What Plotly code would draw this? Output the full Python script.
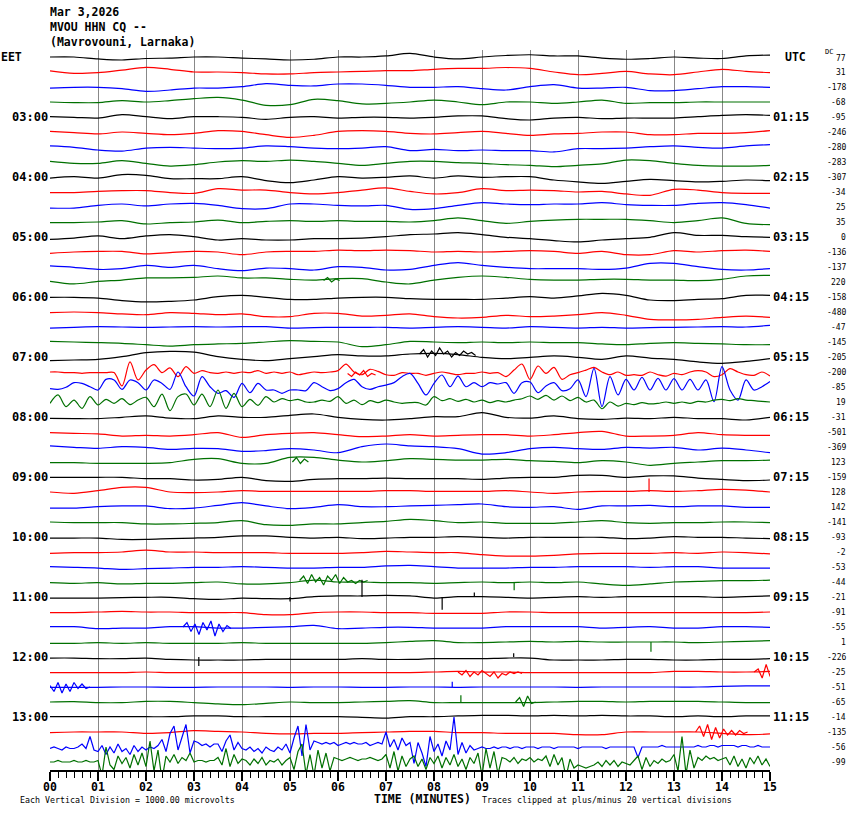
import plotly.graph_objects as go

# Helicorder page: MVOU HHN, 15-minute lines, values in 0.1 vertical division
# (1 division = 1000 microvolts, so 1 unit = 100 microvolts)

DATE_LABEL = "Mar 3,2026"
STATION_LABEL = "MVOU HHN CQ --"
SITE_LABEL = "(Mavrovouni, Larnaka)"

MINUTE_TICKS = ["00", "01", "02", "03", "04", "05", "06", "07",
                "08", "09", "10", "11", "12", "13", "14", "15"]
EET_HOURS = ["03:00", "04:00", "05:00", "06:00", "07:00", "08:00",
             "09:00", "10:00", "11:00", "12:00", "13:00"]
UTC_HOURS = ["01:15", "02:15", "03:15", "04:15", "05:15", "06:15",
             "07:15", "08:15", "09:15", "10:15", "11:15"]
DC_OFFSETS = [77, 31, -178, -68, -95, -246, -280, -283, -307, -34, 25, 35,
              0, -136, -137, 220, -158, -480, -47, -145, -205, -200, -85, 19,
              -31, -501, -369, 123, -159, 128, 142, -141, -93, -2, -53, -44,
              -21, -91, -55, 1, -226, -25, -51, -65, -14, -135, -56, -99]

# one list per 15-minute line (EET start time), samples every 30 s unless denser
tr_0200 = [0, 0, -1.3, -2, -1, -0.7, 0, 0, -0.7, -1.3, -2, -1.5, 0, 0, 0.7, 2.4,
           0, -1.3, 0, 1, 1.5, 0.7, 0.7, -0.7, -1.5, -1, 0, -0.7, -1, 0.7, 1.3]
tr_0215 = [0.7, -0.9, -0.4, 1.3, 3.1, 1.8, 0, 0, -0.4, -1.3, -1.3, -0.4, 0, 0.4, 0.9, 0.9,
           1.8, 2.4, 2.4, 3, 2.4, 0, -1.8, -0.9, 0.4, -1.3, -1.8, 0, 1.8, 0.4, -0.4]
tr_0230 = [-0.7, -0.2, -0.2, -1.1, -2.9, -2, -0.7, -0.7, 0.2, 2.2, 1.1, 0.7, 2, 2, 1.1, -0.2,
           -0.2, 0.2, -1.1, -2, 0.2, 1.6, -0.7, -0.7, -0.2, -2.4, -2.4, -1.1, 0.2, 0.2, -0.2]
tr_0245 = [0, -0.4, -0.4, 0.9, 0, 0.9, 2.2, 3.1, 1.3, -2.2, -1.8, 1.8, 0.9, -1.3, -0.9, 0,
           1.3, 0, -1.8, 0, 0, -0.9, 0, 1.3, -0.9, -0.4, -0.4, 0, 0, 0, 0]
tr_0300 = [0.2, -0.2, -0.7, 1.6, 0.2, -1.1, 0.2, 0.2, -0.2, -1.6, -0.2, 0.2, -0.7, -0.2, -0.2, -0.7,
           -0.2, 0.7, 0.7, -1.1, -2, -0.7, -0.2, -1.1, -0.7, -0.7, -0.7, 0.2, 1.1, 1.6, 1.1]
tr_0315 = [0.4, -0.4, -1.3, 0, -0.9, -1.8, -0.9, 0.9, 0.4, -1.8, -3.6, -2.2, 0.4, 0.9, 0.4, -0.9,
           -1.3, -0.4, 0.4, -0.9, -2.2, -1.3, -0.9, 0, 0, -1.8, -1.8, -0.9, -0.9, -0.4, 0.9]
tr_0330 = [0.7, -0.2, -2, -2.7, -0.7, -0.2, -0.7, -1.1, -0.7, 0.7, 0.2, -0.7, -1.1, -0.7, 0.2, -2.4,
           -1.6, -2.4, -2, -2.4, -2.4, -3.3, -1.1, -1.1, -0.7, 0.2, 0.7, -0.2, -0.7, 0.7, 1.6]
tr_0345 = [0.4, -0.9, -0.9, 0.9, -0.9, -2.7, -1.8, 0, 0.9, 0.4, 1.3, 0.4, -0.9, -2.2, -0.9, 0.4,
           0.4, -0.4, -0.9, -1.8, -2.2, -3.1, -2.2, -1.3, 1.3, 0.9, -0.9, -2.2, -2.7, -2.7, -2.2]
tr_0400 = [-0.7, 0.2, -0.7, 1.6, 1.1, -1.1, -1.1, -1.1, 0.2, -2.4, -3.8, -2, 0.2, -0.7, -0.2, 0.7,
           -0.7, 0.7, -0.2, 0.2, 0.2, -2, -3.3, -4.2, -2.9, -1.6, -2.4, -3.3, -2.9, -2, -2.4]
tr_0415 = [-0.4, -0.4, 0.4, 0.9, 0.9, -0.4, -0.9, 2.2, 1.3, 1.3, -0.4, -1.3, -0.4, 1.3, 2.7, 0.4,
           -1.3, -0.4, 2.2, 0.9, 1.3, 0.9, 0, 0.4, -1.3, -2.2, 1.8, 1.3, -0.4, -0.9, -0.9]
tr_0430 = [-0.7, -0.7, 1.1, 2, 0.7, 2, 2.4, 1.1, -1.1, -1.1, 2, 2, 1.1, 0.7, 1.1, -1.6,
           -1.1, 1.1, 2.9, 2, 1.6, 2, 2, 2.9, 1.6, 1.1, 1.1, 2.4, 2.9, 1.6, -0.7]
tr_0445 = [-0.4, -0.4, 0, 0.9, -1.3, -0.4, 0, 1.3, -0.4, 0.4, 0.9, 0.4, 0.9, 0.4, 0.4, 0,
           0.9, 2.7, 0.9, -0.9, 0.4, 1.3, 1.8, 1.8, 1.8, 0.9, -0.4, 0.9, 2.7, -0.9, -1.8]
tr_0500 = [-1.6, -0.7, 0.7, -1.1, 0.7, 1.6, 0.2, -2, -1.1, -2, -2, -1.1, -1.1, -0.7, 0.2, 1.6,
           2, 2.9, 1.6, -0.2, -1.1, -2.4, -3.3, -2, -1.1, -0.2, 2.9, 1.1, 1.1, 0.2, -0.2]
tr_0515 = [-0.9, 0, 0.4, 0.4, -1.3, -0.4, 0.4, 0, -1.8, 0, 0.4, 0.4, 1.3, 0.9, 1.3, 0.9,
           0, 0.4, 0, 0.4, 0.9, 0.4, -0.9, 0.4, -1.8, -1.8, 0.9, 0, 0.9, 1.3, 0.4]
tr_0530 = [0.7, -0.2, -1.6, -1.1, 1.1, -0.2, 1.1, -1.1, -2.4, -0.7, -1.1, -2, 0.2, -0.2, -2, -1.6,
           1.1, 2.9, 1.1, -0.2, -1.1, -1.1, -1.1, -1.6, -0.7, 2.4, 2.4, 0.2, -1.6, -2, -1.1]
tr_0545 = [0.4, -1.3, 0.4, 1.3, 2.7, 2.7, 3.1, 4, 2.7, 2.7, 1.8, 1.3, 2.2, 2.2, 0, -1.3,
           1.3, 3.1, 4, 3.1, 1.8, 1.3, 1.3, 1.8, 1.8, 1.3, 1.3, 0.9, 1.8, 4, 4.4]
tr_0600 = [-0.2, -0.2, -0.7, -2.4, -3.3, -2.9, -2, 0.2, 1.1, -0.2, -1.6, -1.6, -0.7, -0.2, -0.2, -1.1,
           -1.6, -1.6, -1.6, -0.7, 0.2, -0.7, 0.7, 2.4, 1.1, -2, -2.4, -1.6, -1.1, 1.1, 1.1]
tr_0615 = [-0.4, 0, -0.4, -1.3, -1.8, -0.4, -0.9, -1.8, -1.3, -3.1, -3.1, -0.9, -0.9, -2.7, -2.2, -1.3,
           -3.1, -4, -3.6, -2.2, -3.1, -2.7, -1.8, -0.4, -2.2, -4.9, -5.3, -4.9, -3.6, -2.7, -3.6]
tr_0630 = [-0.7, -0.2, 0.2, 0, -0.2, 0, 0.2, 0, 0.2, 0.2, -0.7, -0.4, -0.2, -0.2, -0.2, -0.7,
           -0.2, 0.2, -0.2, -0.7, 0.2, -0.2, -0.7, -0.2, -0.7, -0.4, -0.2, 0, 0.2, 0, 1.1]
tr_0645 = [0.4, 0, -0.4, -0.9, -1.8, -2.7, -1.8, -1.3, -0.9, 0, 0.9, 0.4, 0, -3.1, -1.8, 0.4,
           0, -0.4, 0, -0.4, 0, -0.4, -0.4, -1.3, -1.8, -0.9, -0.4, -0.9, -1.3, -1.8, -1.8]
tr_0700 = [-2.4, -2, -1.6, 0.2, 2.9, 3.8, 3.3, 0.2, -1.6, -2.4, -1.1, 0.2, 1.6, 0.7, 0.7, 2,
           2.4, 1.6, -0.2, -1.1, -0.2, 0.7, -0.2, -1.6, 0.7, -0.7, -1.6, -3.3, -4.2, -2.9, -1.1]
# 07:15 - 07:45 every 10 s
tr_0715 = [0, 0, -0.4, -0.4, -0.9, -0.4, -0.4, -0.4, -0.4,
           -9.3, 6.7, -5.3, 1.3, 4.9, -0.4, 2.7, -3.1, 3.6, -0.9,
           0.9, -0.4, -0.9, 0, -0.9, 0, -0.4, 0.9, -0.9, 0,
           -0.9, 0, -1.8, -0.9, 0, -0.4, 0, 0.9, 5.3, 0,
           -1.8, 1.8, 0.4, -1.8, -2.2, -0.4, -0.9,
           -0.9, -2.2, -0.9, 0, -0.9, -1.8, -0.9, -0.9, 0, -0.9,
           -0.4, -3.1, 1.3, 5.3, -4.9, 4, -0.9, 3.1, -4.9, -1.8,
           -0.4, 1.3, 3.1, 0, -1.8, 0, -2.2, -1.8, -2.2, 0,
           -1.8, -2.7, -0.9, -1.8, 0, 0.9, 0, -3.1, -1.8, 2.2,
           0, -1.8, -2.2, 0, -2.7]
tr_0730 = [-1.1, -1.6, -0.2, 2.9, 2.4, 0.2, -2, 5.1, 4.7, -1.6,
           4.7, 2.9, -2, 4.7, 2.4, -1.6, 10, 0.2, -6, 6.9,
           0.2, -4.2, -2.4, -6.9, 2.4, -3.8, 2.4, -2, -2, -4.2,
           -2, -2, -2.4, 2.9, 0.2, -2.4, -1.1, 2.9, 5.1, 0.2,
           -1.6, 0.2, 1.3, 2.9, 6.9, 9.1,
           2.4, -5.3, 2.4, 8, 0.2, 7.3, 0.2, 2.9, 0.2, 2.9,
           2, 2.9, -4.2, 2.9, 3.3, -3.8, 0.7, 2.9, -2.4, -1.1,
           4.7, -6.4, 12.4, -13.1, 6.9, -5.3, 5.1, -2, 6.4, -2,
           5.8, -2, 5.6, -2, 5.1, -2, 4.7, -9.8, 13.6, -2,
           -8.7, 4.7, -2, 0.2, 3.6]
tr_0745 = [-0.9, 4.7, -3.1, 1.3, -4.2, 3.6, -2, 1.8, -0.9, 2.2,
           -1.8, 1.3, 3.1, -3.1, 5.3, -5.8, 3.6, 5.3, -2, 5.3,
           -3.1, 8, -4.2, 5.8, -3.1, 1.8, -2.2, 3.6, 0, 2.2,
           0.9, 1.8, 0, 0, 1.3, 0.4, 3.6, -0.9, 1.3, -1.8,
           0.9, -0.4, 1.3, 0, -0.9, -0.4,
           -0.4, -2, 3.6, 0.9, 2.2, 0.4, 1.8, 0, 1.3, -0.4,
           0.9, 0, 1.3, 2.2, 4, 1.8, 4.4, 1.3, 4, 0.9,
           3.1, 0, 1.3, -4.5, 0, -2.7, -0.9, -1.8, -0.4, -1.3,
           -0.9, 0, -0.9, 0, -0.9, 0.4, 0, 1.3, 1.8, 0.9,
           2.2, 1.3, 0.9, 0.4, 0]
tr_0800 = [-0.9, -1.1, -1.1, -0.2, 0.7, -0.7, -1.1, 0.7, -0.2, -0.2, 1.1, 2, -0.2, -1.6, -2, -1.1,
           0.2, 0.2, 2.9, -0.2, -0.7, 0.7, -1.1, -1.6, -0.7, -1.1, -0.2, -1.1, -1.1, -2, -0.2]
tr_0815 = [-0.4, -0.9, -1.3, -2.7, -2.2, -2.7, -1.8, -0.4, -3.6, -1.8, -0.9, -0.4, -1.8, -3.1, -2.7, -1.8,
           -2.7, -2.2, -1.8, -1.8, -2.7, -1.8, -0.4, 0.4, -2.7, -2.7, -2.2, -0.4, -1.8, -2.2, -2.2]
tr_0830 = [0.7, -0.2, -0.9, 0.2, -0.2, -1.6, -0.9, -1.1, -2.9, -2.4, -1.1, -2, -3.8, 0.2, 2, 0.7,
           0.2, -1.1, -4.7, -3.8, -1.1, -0.2, -1.1, -1.6, -0.2, -0.7, -0.2, -2, -0.7, -2, -3.8]
tr_0845 = [-0.4, -0.4, -0.9, -0.9, -0.9, -0.4, 1.8, 2.2, -0.9, -0.9, 3.1, 3.1, 1.3, 0, 0.9, 2.2,
           1.8, 1.3, 1.3, 1.8, 0.9, 0.4, -0.4, 0.9, 0, -2.2, -0.9, 0, 0.9, 0.9, 1.3]
tr_0900 = [-0.2, -0.2, -0.2, -0.2, -1.1, -1.1, -2, -1.6, -0.2, -2.4, -2.9, -1.6, -1.1, -1.1, -0.7, -1.1,
           -1.1, -1.1, -1.6, -0.7, -0.2, -0.2, 1.1, 1.1, -0.2, 0.7, 0.7, -0.7, -1.6, -2.4, -2]
tr_0915 = [0, -0.9, 0.9, 3.1, 3.1, 0, -0.4, 0, 0.9, 0.4, 0.4, 0.4, 0.4, 0.4, 0.9, 0.9,
           0.4, 0.4, 0.4, 0.9, 0, -0.9, 0, 0.4, 0.4, 0.9, 0.4, 0.9, 1.8, 1.3, 0]
tr_0930 = [-0.7, -0.7, 0.2, 0.7, 0.7, -1.1, -0.7, 1.1, 2.9, 0.7, -1.1, -0.2, 1.6, 0.2, 0.2, 0.7,
           1.1, 1.6, 2, 0.2, -0.2, 0.2, -1.6, 0.7, 0.7, 1.1, 0.2, 0.7, 0.7, -0.2, -0.2]
tr_0945 = [0, -0.4, -0.4, -0.4, -1.3, -1.3, -0.9, -0.4, 0.9, -1.8, -2.2, -1.3, -1.3, -0.4, 0.4, 1.8,
           0.9, -0.4, 0, -0.9, -0.9, -0.9, 0, 0.9, -0.4, -0.9, -0.4, -0.4, 0, 0, -0.4]
tr_1000 = [-0.7, -0.7, -0.7, -1.6, -1.6, -1.1, -0.7, -0.2, 0.7, 0.7, -0.2, -0.7, -0.2, -1.1, -0.7, -0.2,
           -0.2, 0.2, -0.2, -0.7, -0.2, -0.2, -0.2, -0.2, -1.1, -0.7, 0.2, -0.2, -0.2, -0.7, -1.1]
tr_1015 = [-0.9, -0.4, -0.4, 0, 1.3, 0, 0, -0.4, -0.4, -0.4, -0.9, -0.9, -0.9, -0.4, 0.4, 0,
           -0.4, -0.4, -1.8, -2.7, -2.7, -2.2, -1.3, -0.9, -0.9, -0.9, -0.4, -0.9, 0, -0.4, -1.3]
tr_1030 = [0.2, -0.2, -0.7, -1.6, -1.1, -0.7, -0.2, -0.2, 0.2, -0.2, -0.7, -0.7, -0.2, -0.2, 0.7, 1.1,
           0.2, -0.7, -0.7, -0.7, -0.2, -0.2, 0.2, 0.2, 0.2, -0.2, 0.2, 0.2, -0.7, -0.7, -0.7]
tr_1045 = [-0.4, -0.9, -0.4, -1.3, -0.9, -0.9, -0.4, 0, -1.3, -1.3, -0.4, 1.3, 0, 0, -0.4, -0.4,
           -0.9, -0.4, 0, -0.4, 0, -0.4, 0, -1.3, -2.2, -1.3, 0, 0.4, 0.9, 0.9, 1.3]
tr_1100 = [-0.7, -0.7, -0.7, -0.4, -0.2, -0.2, -1.1, -1.6, -0.7, -1.1, -1.1, 0.2, 0.7, 0.7, 1.1, 0.7,
           -0.7, 0.2, 0.2, -0.2, -0.7, -0.2, 0.2, -0.2, 0.2, 0.2, 0.2, 0.2, -0.2, 0.2, 0.7]
tr_1115 = [-0.4, -0.4, 0, 0.4, 0, 0, -0.4, -0.4, -0.4, -1.8, -1.8, -0.4, 0, 0, -0.4, -0.4,
           -0.9, -0.9, -0.9, 0, 0, -0.4, -0.4, -0.4, -0.4, -0.4, -0.4, -0.4, -0.4, -0.4, 0]
tr_1130 = [0.2, 0.2, -1.1, -0.7, -0.7, 0.2, 0.2, -0.7, -0.7, -0.2, 0.2, 1.1, -1.1, -0.7, -0.2, -0.2,
           -0.7, -0.7, -0.7, 0.2, 0.2, 0.2, 0.2, -0.7, -0.2, 0.2, -0.7, -0.7, 0.2, 0.2, -0.2]
tr_1145 = [-0.9, -0.9, -0.4, -0.9, -0.4, -0.9, -0.9, -0.9, -0.4, -0.9, -0.9, -0.9, -0.9, -0.9, -0.4, 0.4,
           0.9, -0.4, -0.4, 0, 0.4, 0, 0.4, 0, 0, 0, 0, -0.4, 0, 0.4, 0.9]
tr_1200 = [-0.7, -0.7, -1.1, -1.1, -0.7, -1.6, -2, -2, -2, -1.6, -1.6, -1.6, -1.6, -1.1, -1.6, -1.6,
           -1.1, -1.1, -1.1, -0.7, -0.7, -2, -2, -2, -1.6, -1.6, -2, -2, -1.6, -1.6, -1.1]
tr_1215 = [-0.4, -0.4, -0.4, -0.4, 0, -0.4, -0.4, -0.4, -0.4, -0.4, -0.4, -0.4, -0.4, -0.4, -0.4, -0.4,
           0, 0.4, 0, 0, -0.4, -0.4, -0.4, -0.4, -0.4, -0.4, 0.4, 0.4, 0, 0, 0.4]
tr_1230 = [-0.2, -0.2, -0.2, 0, 0, -0.2, -0.2, 0, 0, 0, -0.2, 0, 0, -0.2, -0.2, 0,
           0, -0.2, 0, 0, 0, 0, -0.2, 0, 0, 0, 0, 0, 0.4, 0.7, 0.7]
tr_1245 = [0, 0.2, -0.4, -0.4, 0.4, 0.4, -0.4, -1.3, -1.8, -0.9, 0, -0.4, -0.4, 0, 0.4, 0.9,
           -0.4, -0.4, -0.4, -0.4, -0.4, 0, 0.4, 0.4, 0, 0.4, 0.4, 0.4, 0, -0.4, -0.4]
tr_1300 = [0.2, 0.2, 0.2, 0.2, 0.2, 0.2, 0.7, 0.7, 0.2, 0.2, 0.2, 0.2, 0.2, -0.2, -0.7, 0.2,
           0.2, 0.7, 1.1, 1.1, 0.7, 1.1, 0.7, 1.1, 0.7, 0.7, 0.2, 0.7, 0.2, 0.7, 0.7]
tr_1315 = [-0.4, 0, 0, 0, -0.9, -0.4, 0.9, 0.4, 0, -0.9, -1.3, -0.9, -0.9, -0.4, 0, 0.4,
           0.4, -0.4, -0.4, -0.9, -0.9, -0.9, -1.8, -1.8, 0, 0, 0, 0, -0.9, -1.8, -1.3]
# 13:30 and 13:45 every 5 s
tr_1330 = [-1, 0, -1, -2, 0, -1, -1, 0,
           2, -1, 7, -2,
           -3, 1, -5, 0, -4, 2, -3, -1, -5, 1, -3, 0, -2,
           0, -1, 1,
           5, -3, 9, 14, -2, 6, 15, -4, 4,
           3, 1, 2, 0, 2,
           2, -3, 4, 8, -2, 3, -1,
           -2, 0, -3, -1, -4, 0, -2, -3, 0, -2,
           2, -4, 6, 14, -6, 15, -2, 4,
           3, 2, 3, 2, 3, 1, 2, 3, 2, 3, 2, 2, 3, 1, 2, 3, 2,
           10, 0, 5, -2, 6, 1, 3,
           -11, 3, -4, -13, 7, -3, 2, -6, 4, -2, 20, -5, 3, -4, 1, -2,
           -1, 0, -1, -1, 0, -1, 0, 0, -1, 0, 0, -1, 0, 0,
           0, -1, 0, 0, 0, -1, 0, 0, 0, 0, 0, -1, 0, 0, 0, 0, 0, 0, -1, 0,
           0, 0, 0, 0, 0, 0, -7, 0, 0, 0, 0, 0, 1, 0, 0, 0, 0, 0, 0, 0,
           0, 1, 0, 0, 1, 1, 0, 1, 1, 1, 1, 0, 1, 1, 0, 0, 1, 0, 0, 0]
tr_1345 = [0, 0, 1, 0, 0, 0, 1, 0, 0, 1, 0, 0, 1,
           -9, 10, -2, -5, 4, -1, 3, -4, 5, -2, 6, -3,
           14, -6, 8, -12,
           4, 0, 5, -1, 3, 1, 6, 0,
           1, 1, 0, 1, 1,
           3, -2, 9, -3, 5, -1, 2,
           1, -2, 2, -1, 3, -2, 1, 0, 2, -2, 1,
           3, -5, 7, 12, -8, 5, -9, 8, -4, 6, -6, 3,
           2, 1, 2, 3, 2, 1, 2, 2, 3, 2, 1, 2,
           5, -4, 7, -6, 4, -3, 2,
           4, -3, 2, -5, 3, -1, 4, -4,
           3, -2, 5, -3, 2, -5, 3, -1,
           6, -9, 9, -4, 7, -8, 3,
           2, 0, 3, -1, 2, 1, 3, 0, 2, 1,
           4, -3, 5, -2, 3, -10, 2, -4,
           -2, -3, -4, -3, -2,
           0, -3, 1, -2, 1, -3, 0, -1, -2, 1,
           4, -5, 3, -3,
           1, -1, 2, 0, 1,
           5, -6, 17, -8, 8, -4,
           3, 1, 4, 2, 3, 1, 2,
           3, -2, 4, -3, 2, -4, 3, -1, 4, -2, 2, -3]

LINES = [tr_0200, tr_0215, tr_0230, tr_0245, tr_0300, tr_0315, tr_0330, tr_0345,
         tr_0400, tr_0415, tr_0430, tr_0445, tr_0500, tr_0515, tr_0530, tr_0545,
         tr_0600, tr_0615, tr_0630, tr_0645, tr_0700, tr_0715, tr_0730, tr_0745,
         tr_0800, tr_0815, tr_0830, tr_0845, tr_0900, tr_0915, tr_0930, tr_0945,
         tr_1000, tr_1015, tr_1030, tr_1045, tr_1100, tr_1115, tr_1130, tr_1145,
         tr_1200, tr_1215, tr_1230, tr_1245, tr_1300, tr_1315, tr_1330, tr_1345]

# short noisy bursts (line index, start minute, samples every 5 s)
burst_lines = [20, 21, 35, 38, 41, 41, 42, 45, 43, 27, 15]
burst_starts = [7.7, 6.2, 5.2, 2.77, 8.5, 14.67, 0.0, 13.45, 9.7, 5.05, 5.7]
burst_values = [
    [2, 5, 0, 4, 1, 6, 2, 4, 0, 3, 1, 4, 2, 3, 1],
    [-1, -3, 0, -2, 1, -3, -1, -2],
    [1, 4, -1, 5, 0, 3, -2, 4, 1, 5, -1, 3, 0, 1, -1, 1, 0, 1],
    [0, 3, -3, 2, -5, 3, -2, 4, -6, 2, -3, 1, -1],
    [0, -2, 1, -3, 0, -2, 1, -1, -3, 0, -4, -1, -2, 0, -1, 0, -1],
    [0, 2, -4, 5, -3],
    [1, -3, 3, -4, 2, -3, 3, -1, 2, -1, 0],
    [0, 4, -3, 5, -5, 3, -4, 2, -2, 1, -2, 1, -1, 0],
    [0, 3, -3, 4, -1, 0],
    [0, 3, -1, 2, 0],
    [1, 3, 0, 2, 1],
]

# single spikes (line index, minute, peak)
spike_lines = [29, 35, 36, 36, 36, 36, 39, 40, 40, 42, 43]
spike_minutes = [12.48, 9.67, 6.5, 8.17, 8.84, 5.0, 12.52, 3.1, 9.66, 8.38, 8.56]
spike_peaks = [9, -5.5, 11.5, -8.5, 3, -3, -6.5, -6, 2.5, 3.5, 4.5]

COLORS = ["#000000", "#ff0000", "#0000ff", "#007000"]
MONO = "DejaVu Sans Mono"

fig = go.Figure()

for i, vals in enumerate(LINES):
    n = len(vals)
    dense = n > 100
    fig.add_trace(go.Scatter(
        x=[15 * k / (n - 1) for k in range(n)],
        y=[-i + v / 10 for v in vals],
        mode="lines",
        line=dict(color=COLORS[i % 4], width=1.2,
                  shape="linear" if dense else "spline", smoothing=0.9),
        hoverinfo="skip",
        showlegend=False
    ))

for row, start, vals in zip(burst_lines, burst_starts, burst_values):
    fig.add_trace(go.Scatter(
        x=[start + k / 12 for k in range(len(vals))],
        y=[-row + v / 10 for v in vals],
        mode="lines",
        line=dict(color=COLORS[row % 4], width=1.2),
        hoverinfo="skip",
        showlegend=False
    ))

for row, t, peak in zip(spike_lines, spike_minutes, spike_peaks):
    fig.add_trace(go.Scatter(
        x=[t, t],
        y=[-row, -row + peak / 10],
        mode="lines",
        line=dict(color=COLORS[row % 4], width=1.2),
        hoverinfo="skip",
        showlegend=False
    ))


# page pixel -> paper coordinates (plot area spans 50..770 on both axes)
def px_x(px):
    return (px - 50) / 720


def px_y(py):
    return (770 - py) / 720


def label(x, y, text, size, xanchor, xref="paper", yref="paper"):
    return dict(x=x, y=y, xref=xref, yref=yref, text=text, showarrow=False,
                xanchor=xanchor, yanchor="middle",
                font=dict(family=MONO, size=size, color="black"))


annotations = []
for j, txt in enumerate([DATE_LABEL, STATION_LABEL, SITE_LABEL]):
    annotations.append(label(px_x(48), px_y(12 + 15 * j), f"<b>{txt}</b>", 11.5, "left"))

annotations.append(label(px_x(-1), 0, "<b>EET</b>", 11.5, "left", yref="y"))
annotations.append(label(px_x(783), 0, "<b>UTC</b>", 11.5, "left", yref="y"))
for k in range(len(EET_HOURS)):
    row = 4 * (k + 1)
    annotations.append(label(px_x(50), -row, f"<b>{EET_HOURS[k]}</b>", 12, "right", yref="y"))
    annotations.append(label(px_x(771), -row, f"<b>{UTC_HOURS[k]}</b>", 12, "left", yref="y"))

for i, dc in enumerate(DC_OFFSETS):
    annotations.append(label(px_x(848), -i - (0.07 if i == 0 else 0), str(dc), 8, "right", yref="y"))
annotations.append(label(px_x(835), 0.33, "DC", 7, "right", yref="y"))

annotations.append(label(px_x(422), px_y(799), "<b>TIME (MINUTES)</b>", 11.5, "center"))
annotations.append(label(px_x(18), px_y(800), "Each Vertical Division = 1000.00 microvolts", 8.3, "left"))
annotations.append(label(px_x(480), px_y(800), "Traces clipped at plus/minus 20 vertical divisions", 8.3, "left"))

fig.update_layout(
    width=850, height=814,
    margin=dict(l=50, r=80, t=50, b=44),
    paper_bgcolor="white", plot_bgcolor="white",
    showlegend=False,
    annotations=annotations,
    xaxis=dict(
        range=[0, 15],
        tickvals=list(range(16)), ticktext=MINUTE_TICKS,
        tickfont=dict(family=MONO, size=11.5, color="black", weight="bold"),
        ticks="outside", ticklen=9, tickwidth=2, tickcolor="black",
        ticklabelstandoff=-4,
        showline=True, linecolor="black", linewidth=2,
        showgrid=True, gridcolor="#888888", gridwidth=1,
        zeroline=False,
        minor=dict(dtick=1 / 6, tick0=0, ticks="outside", ticklen=6,
                   tickwidth=1, tickcolor="black", showgrid=False),
        fixedrange=True
    ),
    yaxis=dict(
        range=[-47.533, 0.467],
        visible=False, showgrid=False, zeroline=False, fixedrange=True
    )
)

# drop the default page margin so the figure sits at the window's corner
fig.write_html("out.html", config={"displayModeBar": False},
               post_script="document.body.style.margin='0';document.body.style.overflow='hidden';")
